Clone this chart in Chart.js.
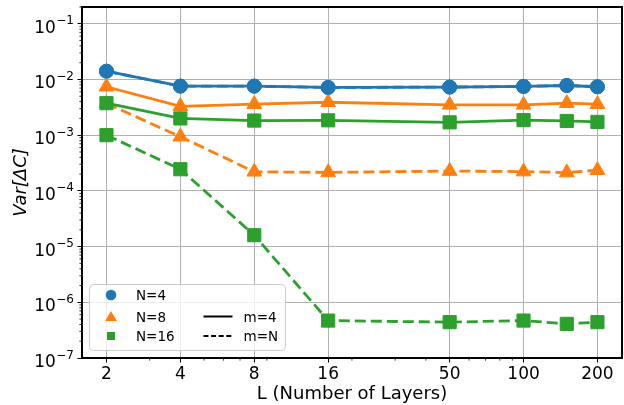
<!DOCTYPE html>
<html><head><meta charset="utf-8">
<script src="https://cdn.jsdelivr.net/npm/chart.js@4"></script>
<style>html,body{margin:0;padding:0;background:#fff;} canvas{display:block;}</style>
</head><body>
<canvas id="c" width="624" height="405"></canvas>
<script>
// ---- data ----
const layers = [2, 4, 8, 16, 50, 100, 150, 200];
const varN4m4  = [1.41e-2, 7.6e-3, 7.6e-3, 7.2e-3, 7.3e-3, 7.5e-3, 7.8e-3, 7.4e-3];
const varN8m4  = [7.4e-3, 3.3e-3, 3.6e-3, 3.9e-3, 3.5e-3, 3.5e-3, 3.75e-3, 3.6e-3];
const varN16m4 = [3.75e-3, 2.0e-3, 1.83e-3, 1.85e-3, 1.7e-3, 1.87e-3, 1.8e-3, 1.73e-3];
const varN4mN  = [1.41e-2, 7.6e-3, 7.6e-3, 7.2e-3, 7.3e-3, 7.5e-3, 7.8e-3, 7.4e-3];
const varN8mN  = [3.7e-3, 9.4e-4, 2.2e-4, 2.15e-4, 2.27e-4, 2.22e-4, 2.13e-4, 2.35e-4];
const varN16mN = [1.0e-3, 2.45e-4, 1.6e-5, 4.7e-7, 4.4e-7, 4.7e-7, 4.1e-7, 4.4e-7];

const xTickValues = [2, 4, 8, 16, 50, 100, 200];
const xTickLabels = ['2', '4', '8', '16', '50', '100', '200'];
const xMinorTicks = [3, 5, 6, 7, 9, 20, 30, 40, 60, 70, 80, 90];
const yTickValues = [1e-7, 1e-6, 1e-5, 1e-4, 1e-3, 1e-2, 1e-1];
const yTickBase = '10';
const yTickExponents = ['\u22127', '\u22126', '\u22125', '\u22124', '\u22123', '\u22122', '\u22121'];
const legendSeriesLabels = ['N=4', 'N=8', 'N=16'];
const legendStyleLabels = ['m=4', 'm=N'];
const xTitle = 'L (Number of Layers)';
const yTitle = 'Var[\u0394C]';

const colors = ['#1f77b4', '#ff7f0e', '#2ca02c'];
const pointStyles = ['circle', 'triangle', 'rect'];
const pointRadii = [7, 8.5, 9.3];
const FONT = "'DejaVu Sans', sans-serif";

function makeDataset(label, vals, idx, dashed) {
  return {
    label: label,
    data: layers.map((L, i) => ({ x: L, y: vals[i] })),
    borderColor: colors[idx],
    backgroundColor: colors[idx],
    pointBackgroundColor: colors[idx],
    pointBorderColor: colors[idx],
    borderWidth: 2.8,
    borderDash: dashed ? [11, 5] : [],
    pointStyle: pointStyles[idx],
    pointRadius: pointRadii[idx],
    pointHoverRadius: pointRadii[idx],
    pointBorderWidth: 1,
    tension: 0,
    fill: false
  };
}

const datasets = [
  makeDataset('N=4, m=4', varN4m4, 0, false),
  makeDataset('N=8, m=4', varN8m4, 1, false),
  makeDataset('N=16, m=4', varN16m4, 2, false),
  makeDataset('N=4, m=N', varN4mN, 0, true),
  makeDataset('N=8, m=N', varN8mN, 1, true),
  makeDataset('N=16, m=N', varN16mN, 2, true)
];

const framePlugin = {
  id: 'frame',
  afterDatasetsDraw(chart) {
    const { ctx, chartArea: a, scales: { x, y } } = chart;
    ctx.save();
    ctx.strokeStyle = '#000';
    ctx.lineWidth = 0.8;
    ctx.beginPath();
    xMinorTicks.forEach(v => {
      const px = x.getPixelForValue(v);
      ctx.moveTo(px, a.bottom);
      ctx.lineTo(px, a.bottom + 2.6);
    });
    for (let k = -7; k <= -1; k++) {
      for (let m = 2; m <= 9; m++) {
        const v = m * Math.pow(10, k);
        if (v < y.min || v > y.max) continue;
        const py = y.getPixelForValue(v);
        ctx.moveTo(a.left, py);
        ctx.lineTo(a.left - 2.6, py);
      }
    }
    ctx.stroke();
    ctx.lineWidth = 2;
    ctx.strokeRect(a.left, a.top, a.right - a.left, a.bottom - a.top);

    // y tick labels: 10 with superscript exponent
    ctx.fillStyle = '#000';
    ctx.textBaseline = 'alphabetic';
    const xEnd = a.left - 8;
    yTickValues.forEach((v, i) => {
      const py = y.getPixelForValue(v);
      ctx.font = '12px ' + FONT;
      const wSup = ctx.measureText(yTickExponents[i]).width;
      ctx.textAlign = 'left';
      ctx.fillText(yTickExponents[i], xEnd - wSup, py + 0.5);
      ctx.font = '17px ' + FONT;
      ctx.textAlign = 'right';
      ctx.fillText(yTickBase, xEnd - wSup - 0.5, py + 9);
    });
    ctx.restore();
  }
};

const legendPlugin = {
  id: 'customLegend',
  afterDraw(chart) {
    const { ctx, chartArea: a } = chart;
    const bx = a.left + 7.5, by = a.bottom - 73.5, bw = 196, bh = 66, r = 4;
    ctx.save();
    ctx.beginPath();
    ctx.moveTo(bx + r, by);
    ctx.lineTo(bx + bw - r, by);
    ctx.arcTo(bx + bw, by, bx + bw, by + r, r);
    ctx.lineTo(bx + bw, by + bh - r);
    ctx.arcTo(bx + bw, by + bh, bx + bw - r, by + bh, r);
    ctx.lineTo(bx + r, by + bh);
    ctx.arcTo(bx, by + bh, bx, by + bh - r, r);
    ctx.lineTo(bx, by + r);
    ctx.arcTo(bx, by, bx + r, by, r);
    ctx.closePath();
    ctx.fillStyle = 'rgba(255,255,255,0.8)';
    ctx.fill();
    ctx.strokeStyle = '#cccccc';
    ctx.lineWidth = 1;
    ctx.stroke();

    const rows = [by + 10.5, by + 32, by + 51.5];
    const mx = bx + 21.5;
    ctx.font = '13.5px ' + FONT;
    ctx.textBaseline = 'alphabetic';
    ctx.textAlign = 'left';
    ctx.fillStyle = colors[0];
    ctx.beginPath(); ctx.arc(mx, rows[0], 5.3, 0, Math.PI * 2); ctx.fill();
    ctx.fillStyle = colors[1];
    ctx.beginPath();
    ctx.moveTo(mx, rows[1] - 5.5); ctx.lineTo(mx + 6, rows[1] + 4.5); ctx.lineTo(mx - 6, rows[1] + 4.5);
    ctx.closePath(); ctx.fill();
    ctx.fillStyle = colors[2];
    ctx.fillRect(mx - 4, rows[2] - 4, 8, 8);

    ctx.fillStyle = '#000';
    legendSeriesLabels.forEach((t, i) => ctx.fillText(t, bx + 46.5, rows[i] + 5));
    ctx.strokeStyle = '#000';
    ctx.lineWidth = 2;
    ctx.beginPath(); ctx.setLineDash([]);
    ctx.moveTo(bx + 114, rows[1]); ctx.lineTo(bx + 143, rows[1]); ctx.stroke();
    ctx.beginPath(); ctx.setLineDash([5, 2.6]);
    ctx.moveTo(bx + 114, rows[2]); ctx.lineTo(bx + 143, rows[2]); ctx.stroke();
    ctx.setLineDash([]);
    legendStyleLabels.forEach((t, i) => ctx.fillText(t, bx + 154, rows[i + 1] + 5));
    ctx.restore();
  }
};

new Chart(document.getElementById('c'), {
  type: 'line',
  data: { datasets: datasets },
  options: {
    responsive: false,
    animation: false,
    events: [],
    layout: { autoPadding: false, padding: { left: 0, top: 7, right: 2, bottom: 0 } },
    plugins: { legend: { display: false }, tooltip: { enabled: false } },
    scales: {
      x: {
        type: 'logarithmic',
        min: 1.59,
        max: 251.8,
        border: { display: false },
        grid: { color: '#b0b0b0', lineWidth: 1, drawTicks: true, tickLength: 4.5, tickColor: '#000', tickWidth: 1 },
        afterBuildTicks: s => { s.ticks = xTickValues.map(v => ({ value: v })); },
        afterFit: s => { s.height = 47; s.paddingLeft = 0; s.paddingRight = 0; },
        ticks: {
          autoSkip: false, maxRotation: 0, minRotation: 0, padding: 2,
          color: '#000', font: { family: FONT, size: 17 },
          callback: (v, i) => xTickLabels[i]
        },
        title: { display: true, text: xTitle, color: '#000', font: { family: FONT, size: 18, lineHeight: 1.2 }, padding: { top: 0, bottom: 0 } }
      },
      y: {
        type: 'logarithmic',
        min: 1e-7,
        max: 0.2,
        border: { display: false },
        grid: { color: '#b0b0b0', lineWidth: 1, drawTicks: true, tickLength: 4.5, tickColor: '#000', tickWidth: 1 },
        afterBuildTicks: s => { s.ticks = yTickValues.map(v => ({ value: v })); },
        afterFit: s => { s.width = 82; s.paddingTop = 0; s.paddingBottom = 0; },
        ticks: { display: false },
        title: { display: true, text: yTitle, color: '#000', font: { family: FONT, size: 18, style: 'italic', lineHeight: 1.2 }, padding: { top: 11, bottom: 0 } }
      }
    }
  },
  plugins: [framePlugin, legendPlugin]
});
</script>
</body></html>
